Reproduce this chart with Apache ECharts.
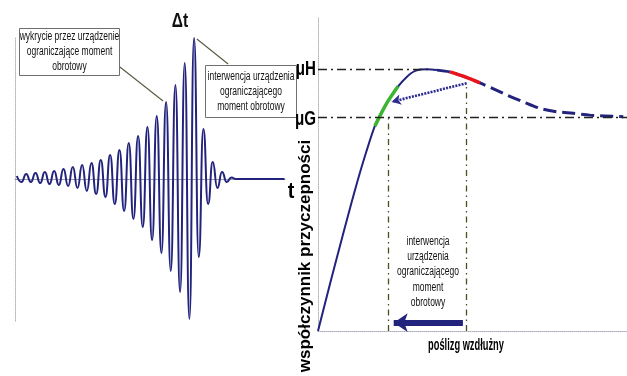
<!DOCTYPE html>
<html><head><meta charset="utf-8">
<script src="https://cdn.jsdelivr.net/npm/echarts@6/dist/echarts.min.js"></script>
<style>html,body{margin:0;padding:0;background:#fff}#c{width:627px;height:376px}</style>
</head><body><div id="c"></div>
<script>
// Left chart: oscillation extrema (half-period index, amplitude)
const sigIdx = [0,1,2,3,4,5,6,7,8,9,10,11,12,13,14,15,16,17,18,19,20,21,22,23,24,25,26,27,28,29,30,31,32,33,34,35,36,37,38,39,40,41,42,43,44,45,46,47,57.4];
const sigAmp = [3,-3,5,-3,6,-4,7,-5,8,-6,10,-7,12,-9,14,-12,16,-15,19,-18,24,-25,29,-32,36,-40,43,-48,52,-61,63,-74,77,-92,94,-113,116,-140,141,-78,50,-25,17,-9,7,-3,1.5,0,0];
// Right chart: friction coefficient vs longitudinal slip
const slipSolid = [0,4,8,12,15.5,18.8,22.3,25.6,28.8,31.7,35.3,38.5];
const muSolid   = [0,0.185,0.365,0.54,0.68,0.795,0.872,0.93,0.972,0.995,1.0,0.997];
const slipDash  = [38.5,42.7,47.6,52.4,55.7,61.1,66.4,71.8,77.2,82.6,88.0,98.8];
const muDash    = [0.997,0.99,0.971,0.948,0.931,0.902,0.876,0.851,0.838,0.832,0.825,0.819];
const slipGreen = [18.4,22.3,25.9];
const muGreen   = [0.783,0.872,0.935];
const slipRed   = [42.7,47.6,52.4];
const muRed     = [0.99,0.971,0.948];
const muH = 1.0, muG = 0.815;
const slipDetect = 22.65, slipInterv = 48.1;

const zip = (a,b) => a.map((v,i)=>[v,b[i]]);
const NAVY = '#22237c';
const SANS = '"Liberation Sans",Arial,sans-serif';
const SQ = 0.68;

const chart = echarts.init(document.getElementById('c'), null, {renderer:'canvas'});
const hidden = {axisTick:{show:false}, axisLabel:{show:false}, splitLine:{show:false}};
chart.setOption({
  animation:false,
  grid:[
    {left:15, top:37, width:270, height:284, outerBoundsMode:'none'},
    {left:318, top:17, width:309, height:314, outerBoundsMode:'none'}
  ],
  xAxis:[
    Object.assign({type:'value', gridIndex:0, min:-0.4, max:57.5,
      axisLine:{show:true, onZero:true, lineStyle:{color:'#9a9ab4', width:1}}}, hidden),
    Object.assign({type:'value', gridIndex:1, min:0, max:100,
      axisLine:{show:true, onZero:false, lineStyle:{color:'#aab', width:1, type:'dotted'}}}, hidden)
  ],
  yAxis:[
    Object.assign({type:'value', gridIndex:0, min:-142, max:142,
      axisLine:{show:true, onZero:false, lineStyle:{color:'#b5b5b5', width:1, type:'dotted'}}}, hidden),
    Object.assign({type:'value', gridIndex:1, min:0, max:1.2,
      axisLine:{show:true, onZero:false, lineStyle:{color:'#b5b5b5', width:1, type:'dotted'}}}, hidden)
  ],
  series:[
    {type:'line', xAxisIndex:0, yAxisIndex:0, data:zip(sigIdx,sigAmp), smooth:0.55, smoothMonotone:'x',
     showSymbol:false, lineStyle:{color:NAVY, width:2}, silent:true, z:3,
     markLine:{silent:true, symbol:['none','none'], label:{show:false},
       data:[
         [{coord:[31.7,80], lineStyle:{color:'#d8d23a', width:1.3, type:'solid'}},{coord:[31.7,158]}],
         [{coord:[38,143], lineStyle:{color:'#d8d23a', width:1.3, type:'solid'}},{coord:[38,158]}],
         [{coord:[31.8,148], symbol:'arrow', symbolSize:[5,6], lineStyle:{color:'#7a7a7a', width:1.2, type:'solid'}},{coord:[37.9,148], symbol:'arrow', symbolSize:[5,6]}],
         [{coord:[22.1,112], lineStyle:{color:'#555a40', width:1.1, type:'solid'}},{coord:[31.35,78]}],
         [{coord:[38.6,140], lineStyle:{color:'#555a40', width:1.1, type:'solid'}},{coord:[45.3,115]}]
       ]}},
    {type:'line', xAxisIndex:1, yAxisIndex:1, data:zip(slipSolid,muSolid), smooth:0.3,
     showSymbol:false, lineStyle:{color:NAVY, width:2}, silent:true, z:3,
     markLine:{silent:true, symbol:['none','none'], label:{show:false},
       data:[
         [{coord:[0,muH], lineStyle:{color:'#222', width:1.4, type:[9,4,2,4]}},{coord:[36,muH]}],
         [{coord:[0,muG], lineStyle:{color:'#222', width:1.4, type:[9,4,2,4]}},{coord:[100,muG]}],
         [{coord:[slipDetect,0], lineStyle:{color:'#4d4d20', width:1.3, type:[6,4,1.5,4]}},{coord:[slipDetect,muG]}],
         [{coord:[slipInterv,0], lineStyle:{color:'#4d4d20', width:1.3, type:[6,4,1.5,4]}},{coord:[slipInterv,0.947]}],
         [{coord:[slipInterv,0.947], lineStyle:{color:'#2a2a90', width:2.6, type:[2,1.2]}},{coord:[23.9,0.876], symbol:'arrow', symbolSize:[8,9]}],
         [{coord:[46.9,0.032], lineStyle:{color:NAVY, width:6, type:'solid'}},{coord:[24.5,0.032], symbol:'arrow', symbolSize:[14,14]}]
       ]}},
    {type:'line', xAxisIndex:1, yAxisIndex:1, data:zip(slipDash,muDash), smooth:0.3,
     showSymbol:false, lineStyle:{color:NAVY, width:3, type:[13,6]}, silent:true, z:3},
    {type:'line', xAxisIndex:1, yAxisIndex:1, data:zip(slipGreen,muGreen), smooth:0.3,
     showSymbol:false, lineStyle:{color:'#3cb532', width:3.5}, silent:true, z:4},
    {type:'line', xAxisIndex:1, yAxisIndex:1, data:zip(slipRed,muRed), smooth:0.3,
     showSymbol:false, lineStyle:{color:'#e8161c', width:3.5}, silent:true, z:4}
  ],
  graphic:[
    {type:'rect', shape:{x:19.5, y:28.5, width:100, height:47}, style:{fill:'#fff', stroke:'#6f6f6f', lineWidth:1}, z:10},
    {type:'text', x:69.5, y:51.5, scaleX:SQ, z:11, style:{text:'wykrycie przez urządzenie\nograniczające moment\nobrotowy', font:'12.5px '+SANS, fill:'#111', align:'center', verticalAlign:'middle', lineHeight:15}},
    {type:'rect', shape:{x:205.5, y:65.5, width:91, height:52}, style:{fill:'#fff', stroke:'#6f6f6f', lineWidth:1}, z:10},
    {type:'text', x:251, y:92, scaleX:SQ, z:11, style:{text:'interwencja urządzenia\nograniczającego\nmoment obrotowy', font:'12.5px '+SANS, fill:'#111', align:'center', verticalAlign:'middle', lineHeight:15}},
    {type:'text', x:180, y:21, scaleX:0.78, z:11, style:{text:'Δt', font:'bold 20px '+SANS, fill:'#111', align:'center', verticalAlign:'middle'}},
    {type:'text', x:291, y:192, scaleX:0.9, z:11, style:{text:'t', font:'bold 22px '+SANS, fill:'#000', align:'center', verticalAlign:'middle'}},
    {type:'text', x:316, y:69, scaleX:0.72, z:12, style:{text:'μH', font:'bold 21px '+SANS, fill:'#000', align:'right', verticalAlign:'middle'}},
    {type:'text', x:316, y:119, scaleX:0.72, z:12, style:{text:'μG', font:'bold 21px '+SANS, fill:'#000', align:'right', verticalAlign:'middle'}},
    {type:'text', x:428, y:272, scaleX:SQ, z:11, style:{text:'interwencja\nurządzenia\nograniczającego\nmoment\nobrotowy', font:'12.5px '+SANS, fill:'#111', align:'center', verticalAlign:'middle', lineHeight:15.3}},
    {type:'text', x:466, y:346, scaleX:0.58, z:11, style:{text:'poślizg wzdłużny', font:'bold 16px '+SANS, fill:'#000', align:'center', verticalAlign:'middle'}},
    {type:'text', x:305, y:256, rotation:Math.PI/2, z:11, style:{text:'współczynnik przyczepności', font:'bold 17px '+SANS, fill:'#000', align:'center', verticalAlign:'middle'}}
  ]
});
</script></body></html>
